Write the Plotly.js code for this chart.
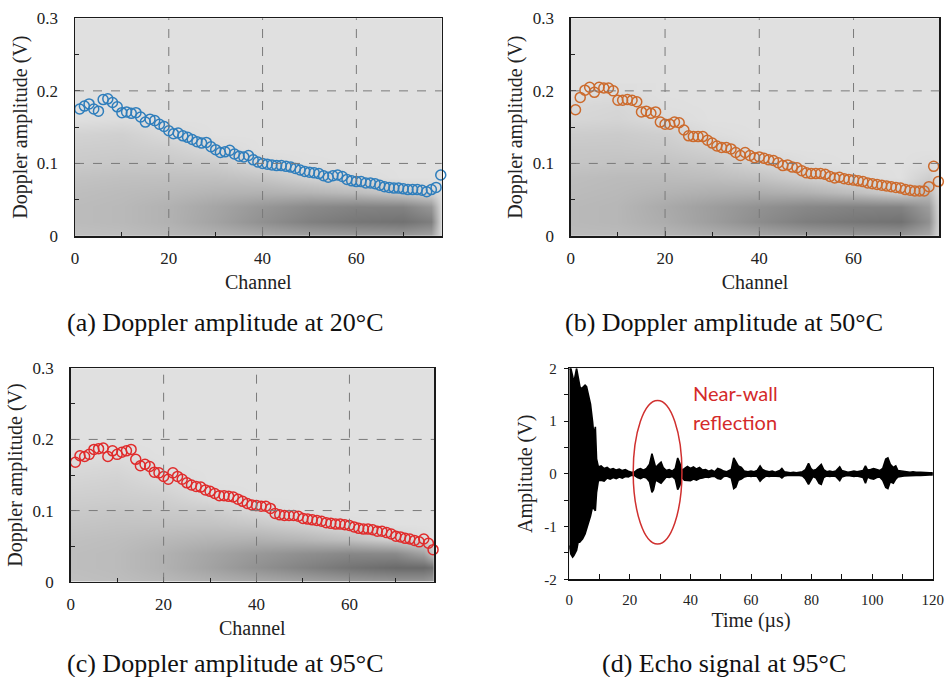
<!DOCTYPE html>
<html>
<head>
<meta charset="utf-8">
<script src="https://cdn.plot.ly/plotly-3.0.1.min.js"></script>
<style>html,body{margin:0;padding:0;background:#fff;}#chart{width:945px;height:677px;}</style>
</head>
<body>
<div id="chart"></div>
<script>
// ---------------- DATA ----------------
const channels = [1,2,3,4,5,6,7,8,9,10,11,12,13,14,15,16,17,18,19,20,21,22,23,24,25,26,27,28,29,30,
  31,32,33,34,35,36,37,38,39,40,41,42,43,44,45,46,47,48,49,50,51,52,53,54,55,56,57,58,59,60,
  61,62,63,64,65,66,67,68,69,70,71,72,73,74,75,76,77,78];

const amp20C = [0.175,0.179,0.182,0.175,0.172,0.188,0.189,0.184,0.178,0.170,
  0.171,0.169,0.170,0.164,0.157,0.161,0.159,0.154,0.151,0.145,
  0.141,0.142,0.138,0.136,0.133,0.130,0.128,0.129,0.123,0.119,
  0.115,0.116,0.118,0.113,0.110,0.109,0.111,0.105,0.102,0.100,
  0.099,0.098,0.097,0.097,0.096,0.095,0.093,0.091,0.089,0.088,
  0.087,0.086,0.083,0.081,0.083,0.084,0.082,0.078,0.076,0.075,
  0.075,0.073,0.073,0.072,0.070,0.068,0.067,0.066,0.066,0.065,
  0.064,0.064,0.064,0.063,0.061,0.064,0.067,0.084];

const amp50C = [0.174,0.191,0.201,0.205,0.198,0.205,0.204,0.204,0.200,0.187,
  0.187,0.188,0.187,0.185,0.171,0.172,0.169,0.171,0.157,0.154,
  0.154,0.157,0.156,0.146,0.138,0.137,0.137,0.137,0.132,0.128,
  0.124,0.122,0.122,0.120,0.115,0.111,0.115,0.111,0.108,0.109,
  0.107,0.105,0.104,0.101,0.097,0.098,0.095,0.094,0.090,0.087,
  0.086,0.086,0.086,0.085,0.082,0.080,0.081,0.079,0.078,0.077,
  0.076,0.075,0.073,0.072,0.071,0.070,0.069,0.068,0.067,0.066,
  0.064,0.063,0.062,0.062,0.062,0.068,0.096,0.075];

const amp95C = [0.168,0.177,0.176,0.179,0.186,0.187,0.188,0.176,0.184,0.179,
  0.182,0.184,0.186,0.172,0.163,0.165,0.162,0.154,0.153,0.148,
  0.144,0.153,0.148,0.144,0.139,0.136,0.134,0.133,0.129,0.127,
  0.124,0.121,0.121,0.120,0.119,0.116,0.113,0.110,0.108,0.107,
  0.106,0.106,0.103,0.096,0.094,0.093,0.093,0.093,0.092,0.089,
  0.088,0.087,0.086,0.085,0.083,0.082,0.081,0.081,0.080,0.079,
  0.077,0.075,0.074,0.074,0.073,0.071,0.071,0.069,0.067,0.064,
  0.063,0.061,0.060,0.058,0.056,0.060,0.054,0.045];

// background density maps (relative darkness 0..10), rows = heatY, cols = heatX
const heatX = [0, 10, 20, 30, 40, 50, 60, 70, 76, 78];
const heatY = [0, 0.02, 0.04, 0.06, 0.08, 0.10, 0.12, 0.14, 0.16, 0.18, 0.20];
const heat20C = [
  [2.6,2.8,3.2,3.8,4.4,5.0,5.4,5.6,5.0,0.8],
  [3.0,3.2,3.8,5.0,6.5,7.8,8.6,9.0,8.0,1.0],
  [3.0,3.2,3.8,4.8,6.0,7.0,7.6,7.6,6.0,0.8],
  [2.8,3.0,3.2,3.6,3.8,3.6,3.0,1.8,0.8,0.3],
  [2.4,2.6,2.6,2.6,2.2,1.2,0.4,0,0,0],
  [1.8,2.0,1.9,1.6,0.6,0.1,0,0,0,0],
  [1.5,1.6,1.3,0.5,0,0,0,0,0,0],
  [1.1,1.3,0.5,0,0,0,0,0,0,0],
  [0.1,0.3,0,0,0,0,0,0,0,0],
  [0,0,0,0,0,0,0,0,0,0],
  [0,0,0,0,0,0,0,0,0,0]];
const heat50C = [
  [3.0,3.0,3.4,4.0,4.6,5.2,5.6,5.8,4.5,0.8],
  [3.2,3.4,4.2,5.4,6.8,8.0,8.6,9.0,6.5,1.0],
  [3.2,3.4,4.4,5.4,6.4,7.2,7.6,7.6,5.5,0.8],
  [3.0,3.2,3.6,4.0,4.2,3.8,2.8,1.4,3.0,0.4],
  [2.8,3.0,3.0,2.8,2.4,1.4,0.4,0,1.5,0],
  [2.2,2.4,2.4,2.0,1.0,0.2,0,0,0.3,0],
  [2.0,2.0,1.8,1.2,0,0,0,0,0,0],
  [1.6,1.7,1.4,0.3,0,0,0,0,0,0],
  [0.8,1.0,0.4,0,0,0,0,0,0,0],
  [0.6,0.8,0.1,0,0,0,0,0,0,0],
  [0,0.2,0,0,0,0,0,0,0,0]];
const heat95C = [
  [2.6,2.8,3.2,3.8,4.4,5.0,5.6,6.0,6.0,5.5],
  [2.8,3.0,3.8,5.0,6.4,7.6,8.8,9.6,9.6,9.0],
  [2.8,3.0,3.8,4.8,5.8,6.6,7.2,7.0,5.0,2.0],
  [2.6,2.8,3.2,3.6,3.8,3.4,2.6,1.2,0.4,0],
  [2.2,2.4,2.4,2.4,2.0,1.2,0.3,0,0,0],
  [1.8,2.0,1.8,1.6,0.6,0,0,0,0,0],
  [1.4,1.5,1.3,0.4,0,0,0,0,0,0],
  [1.0,1.2,0.6,0,0,0,0,0,0,0],
  [0.6,0.8,0.1,0,0,0,0,0,0,0],
  [0.1,0.2,0,0,0,0,0,0,0,0],
  [0,0,0,0,0,0,0,0,0,0]];

// echo signal envelope at 95°C (time in µs, amplitude in V)
const echoT = [0,0.5,1.1,1.5,2.4,3.0,3.5,4.0,4.4,5.2,5.7,6.3,7.0,7.7,8.1,8.6,9.0,9.6,
  10.5,11.5,12.5,13.5,14.5,15.5,16.5,17.5,18.5,19.5,20.5,21.5,22.5,23.5,24.5,25.5,26.5,27.3,27.8,
  28.5,29.5,30.3,31.0,32.0,33.0,34.0,35.0,35.8,36.5,37.2,38.0,39.0,40.0,41.0,42.0,43.0,44.0,45.0,
  46.0,47.0,48.0,49.0,50.0,51.0,52.0,53.5,54.3,55.0,55.8,56.8,57.8,59.0,60.0,61.0,62.0,63.0,63.8,
  65.0,66.0,67.0,68.0,69.5,70.2,71.0,72.0,73.0,74.0,75.0,76.0,77.0,78.0,79.0,79.8,80.5,81.5,82.5,
  83.2,84.0,85.0,86.0,87.0,88.0,89.3,90.0,91.0,92.0,93.0,94.0,95.0,96.0,97.0,97.8,98.5,99.5,100.5,
  101.5,102.5,103.5,104.5,105.2,106.0,107.0,107.8,108.5,109.5,110.5,111.5,112.5,113.5,114.5,116.0,
  117.5,119.0,120.0];
const echoUp = [1.98,2.0,1.85,1.73,2.0,1.77,1.65,1.61,1.63,1.68,1.65,1.48,1.32,0.98,0.73,0.89,0.28,0.13,
  0.15,0.10,0.12,0.08,0.10,0.07,0.09,0.06,0.08,0.05,0.03,0.03,0.08,0.10,0.07,0.10,0.18,0.38,0.25,
  0.12,0.18,0.22,0.12,0.06,0.08,0.05,0.10,0.30,0.20,0.06,0.10,0.14,0.10,0.13,0.09,0.12,0.07,0.08,
  0.05,0.07,0.04,0.10,0.08,0.05,0.04,0.08,0.30,0.22,0.15,0.12,0.05,0.04,0.05,0.04,0.06,0.15,0.08,
  0.05,0.04,0.05,0.03,0.06,0.10,0.04,0.03,0.02,0.03,0.02,0.03,0.04,0.08,0.20,0.10,0.06,0.08,0.15,
  0.18,0.08,0.04,0.05,0.04,0.05,0.13,0.06,0.04,0.03,0.04,0.05,0.04,0.05,0.06,0.15,0.07,0.08,0.10,
  0.08,0.06,0.10,0.28,0.30,0.18,0.12,0.15,0.06,0.05,0.04,0.04,0.03,0.04,0.03,0.03,
  0.02,0.02,0.02];
const echoLo = [-1.36,-1.52,-1.58,-1.55,-1.45,-1.27,-1.29,-1.25,-1.23,-1.14,-1.08,-0.95,-0.80,-0.62,-0.66,-0.70,-0.35,-0.13,
  -0.12,-0.14,-0.08,-0.10,-0.07,-0.09,-0.06,-0.08,-0.05,-0.06,-0.03,-0.03,-0.07,-0.09,-0.06,-0.08,-0.15,-0.35,-0.30,
  -0.12,-0.15,-0.18,-0.12,-0.06,-0.07,-0.05,-0.10,-0.30,-0.22,-0.06,-0.12,-0.12,-0.13,-0.10,-0.12,-0.09,-0.08,-0.06,
  -0.07,-0.05,-0.05,-0.09,-0.10,-0.05,-0.04,-0.08,-0.28,-0.25,-0.12,-0.10,-0.06,-0.04,-0.05,-0.04,-0.05,-0.14,-0.09,
  -0.04,-0.05,-0.04,-0.04,-0.05,-0.08,-0.04,-0.03,-0.03,-0.02,-0.03,-0.03,-0.04,-0.10,-0.20,-0.12,-0.05,-0.08,-0.18,
  -0.20,-0.07,-0.04,-0.05,-0.04,-0.05,-0.13,-0.06,-0.04,-0.03,-0.04,-0.05,-0.04,-0.05,-0.07,-0.18,-0.06,-0.09,-0.10,
  -0.07,-0.06,-0.12,-0.26,-0.28,-0.15,-0.18,-0.10,-0.06,-0.05,-0.04,-0.03,-0.04,-0.03,-0.03,-0.03,
  -0.03,-0.02,-0.02];

// highlighted region (ellipse) on echo plot: [t0, t1, v0, v1]
const nearWallEllipse = [21.1, 37.2, -1.33, 1.39];

const captions = ['(a) Doppler amplitude at 20°C', '(b) Doppler amplitude at 50°C',
                  '(c) Doppler amplitude at 95°C', '(d) Echo signal at 95°C'];
const dopplerGridX = [20, 40, 60];
const dopplerGridY = [0.1, 0.2];
const echoTickVals = [-2, -1, 0, 1, 2];
const echoTickText = ['-2', '-1', '0', '1', '2'];

// ---------------- STYLE / LAYOUT ----------------
const SERIF = 'Liberation Serif';
const W = 945, H = 677;
const px = v => v / W;
const py = v => 1 - v / H;

const panels = [
  {x: [75, 441.7], y: [18.3, 236], amp: amp20C, heat: heat20C, color: '#2f7ebc'},
  {x: [570.8, 939.3], y: [18.3, 236], amp: amp50C, heat: heat50C, color: '#cc6a2c'},
  {x: [70.7, 434], y: [368.3, 581.7], amp: amp95C, heat: heat95C, color: '#e02b2b'}
];

const grayScale = [[0, '#e0e0e0'], [1, '#666666']];
const traces = [];
const layout = {
  width: W, height: H,
  margin: {l: 0, r: 0, t: 0, b: 0},
  paper_bgcolor: '#ffffff',
  plot_bgcolor: '#e0e0e0',
  showlegend: false,
  font: {family: SERIF, color: '#111'},
  shapes: [], annotations: []
};

panels.forEach((p, i) => {
  const n = i + 1;
  const xa = 'x' + (n === 1 ? '' : n), ya = 'y' + (n === 1 ? '' : n);
  const xk = 'xaxis' + (n === 1 ? '' : n), yk = 'yaxis' + (n === 1 ? '' : n);
  traces.push({
    type: 'heatmap', x: heatX, y: heatY, z: p.heat, zmin: 0, zmax: 10,
    colorscale: grayScale, showscale: false, zsmooth: 'best', hoverinfo: 'skip',
    xaxis: xa, yaxis: ya
  });
  traces.push({
    type: 'scatter', mode: 'markers', x: channels, y: p.amp, xaxis: xa, yaxis: ya,
    cliponaxis: false,
    marker: {symbol: 'circle-open', size: 10, color: p.color, line: {width: 1.5, color: p.color}}
  });
  layout[xk] = {
    domain: [px(p.x[0]), px(p.x[1])], anchor: ya, range: [0, 78.2],
    tick0: 0, dtick: 20, ticks: 'inside', ticklen: 5, tickcolor: '#222',
    minor: {dtick: 10, ticks: 'inside', ticklen: 4, tickcolor: '#222'},
    showgrid: false, zeroline: false, showline: true, mirror: true, linecolor: '#1a1a1a', linewidth: 1.5,
    tickfont: {family: SERIF, size: 17, color: '#222'}, ticklabelstandoff: 6,
    title: {text: 'Channel', font: {family: SERIF, size: 20, color: '#222'}, standoff: 8}
  };
  layout[yk] = {
    domain: [py(p.y[1]), py(p.y[0])], anchor: xa, range: [0, 0.3],
    tick0: 0, dtick: 0.1, ticks: 'inside', ticklen: 5, tickcolor: '#222',
    minor: {dtick: 0.05, ticks: 'inside', ticklen: 4, tickcolor: '#222'},
    showgrid: false, zeroline: false, showline: true, mirror: true, linecolor: '#1a1a1a', linewidth: 1.5,
    tickfont: {family: SERIF, size: 17, color: '#222'}, ticklabelstandoff: 12,
    title: {text: 'Doppler amplitude (V)', font: {family: SERIF, size: 20, color: '#222'}, standoff: 4}
  };
  dopplerGridX.forEach(g => layout.shapes.push({
    type: 'line', xref: xa, yref: ya + ' domain', x0: g, x1: g, y0: 0, y1: 1, layer: 'above',
    line: {color: '#7a7a7a', width: 1, dash: 'dash'}
  }));
  dopplerGridY.forEach(g => layout.shapes.push({
    type: 'line', xref: xa + ' domain', yref: ya, x0: 0, x1: 1, y0: g, y1: g, layer: 'above',
    line: {color: '#7a7a7a', width: 1, dash: 'dash'}
  }));
});

// Echo signal panel (d)
traces.push({
  type: 'scatter', mode: 'lines',
  x: echoT.concat(echoT.slice().reverse()),
  y: echoUp.concat(echoLo.slice().reverse()),
  fill: 'toself', fillcolor: '#000000', line: {color: '#000000', width: 1.6},
  xaxis: 'x4', yaxis: 'y4', hoverinfo: 'skip'
});
layout.xaxis4 = {
  domain: [px(569.3), px(932.7)], anchor: 'y4', range: [0, 120],
  tick0: 0, dtick: 20, ticks: 'inside', ticklen: 5, tickcolor: '#111',
  minor: {dtick: 10, ticks: 'inside', ticklen: 5, tickcolor: '#111'},
  showgrid: false, zeroline: false, showline: true, mirror: true, linecolor: '#111', linewidth: 1.5,
  tickfont: {family: SERIF, size: 15, color: '#222'}, ticklabelstandoff: 6,
  title: {text: 'Time (µs)', font: {family: SERIF, size: 20, color: '#222'}, standoff: 6}
};
layout.yaxis4 = {
  domain: [py(579.3), py(368.3)], anchor: 'x4', range: [-2, 2],
  tickmode: 'array', tickvals: echoTickVals, ticktext: echoTickText,
  ticks: 'outside', ticklen: 4, tickcolor: '#111',
  minor: {dtick: 0.5, ticks: 'outside', ticklen: 4, tickcolor: '#111'},
  showgrid: false, zeroline: false, showline: true, mirror: true, linecolor: '#111', linewidth: 1.5,
  tickfont: {family: SERIF, size: 15, color: '#222'}, ticklabelstandoff: 4,
  title: {text: 'Amplitude (V)', font: {family: SERIF, size: 20, color: '#222'}, standoff: 6}
};
layout.shapes.push({
  type: 'circle', xref: 'x4', yref: 'y4',
  x0: nearWallEllipse[0], x1: nearWallEllipse[1], y0: nearWallEllipse[2], y1: nearWallEllipse[3],
  line: {color: '#d0302f', width: 1.5}
});
// white background for echo plot area
layout.shapes.push({
  type: 'rect', xref: 'x4 domain', yref: 'y4 domain', x0: 0, x1: 1, y0: 0, y1: 1,
  fillcolor: '#ffffff', line: {width: 0}, layer: 'below'
});
layout.annotations.push({
  xref: 'paper', yref: 'paper', x: px(691), y: py(393), xanchor: 'left', yanchor: 'middle',
  text: 'Near-wall', showarrow: false, font: {family: 'Lato', size: 20, color: '#d42a2a'}
});
layout.annotations.push({
  xref: 'paper', yref: 'paper', x: px(691), y: py(421.5), xanchor: 'left', yanchor: 'middle',
  text: 'reflection', showarrow: false, font: {family: 'Lato', size: 20, color: '#d42a2a'}
});

// captions
const capPos = [[225, 322], [724, 322], [225, 663], [724, 663]];
captions.forEach((c, i) => layout.annotations.push({
  xref: 'paper', yref: 'paper', x: px(capPos[i][0]), y: py(capPos[i][1]),
  xanchor: 'center', yanchor: 'middle', text: c, showarrow: false,
  font: {family: SERIF, size: 26, color: '#111'}
}));

Plotly.newPlot('chart', traces, layout, {staticPlot: true, displayModeBar: false});
</script>
</body>
</html>
